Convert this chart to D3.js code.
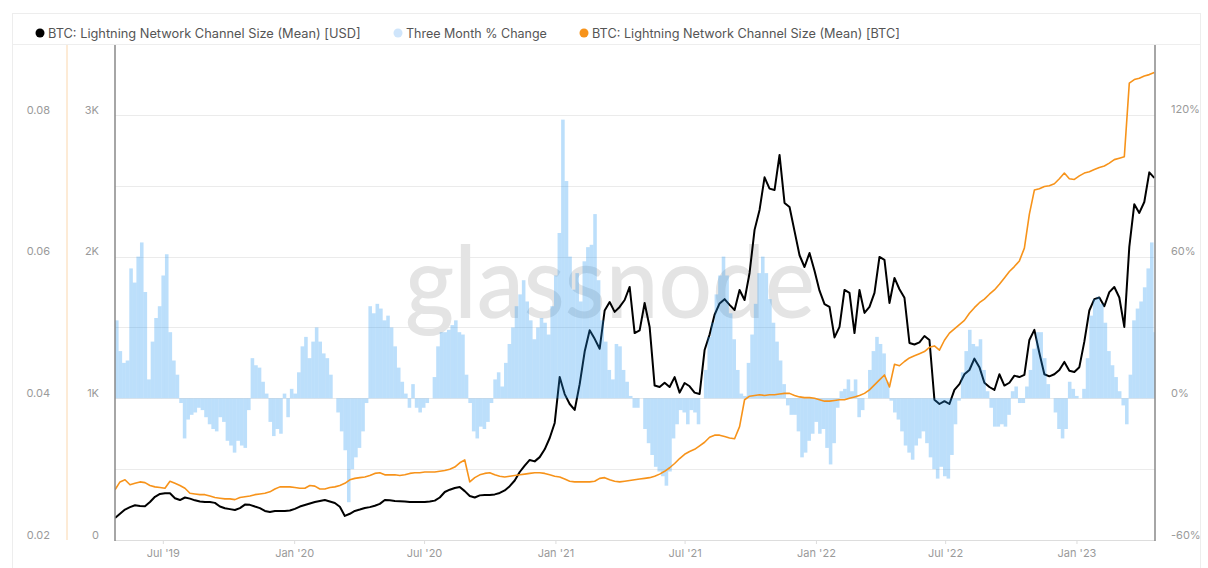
<!DOCTYPE html>
<html><head><meta charset="utf-8">
<script src="https://cdn.jsdelivr.net/npm/d3@7"></script>
<style>body{margin:0;background:#fff;font-family:Inter,"Noto Sans",sans-serif;}</style>
</head><body><svg id="c" width="1208" height="568"></svg>
<script>
// ---- data ----
const lineStart = "2019-04-25";   // weekly samples
const lineStepDays = 7;
const usdMean = [155,185,215,232,245,240,238,268,305,325,330,330,295,282,300,292,280,272,268,268,262,236,224,218,212,225,250,248,236,225,205,198,205,205,205,208,220,236,247,258,268,275,282,272,261,235,170,185,205,215,226,232,242,255,282,280,276,274,272,268,268,268,268,272,278,300,339,355,367,374,345,310,300,315,318,318,322,332,350,380,420,480,525,565,555,585,640,720,826,1151,1030,960,918,1100,1330,1480,1420,1350,1620,1680,1610,1645,1694,1786,1461,1480,1673,1504,1090,1080,1110,1080,1150,1040,1108,1085,1040,1030,1341,1450,1590,1670,1700,1660,1624,1765,1694,1885,2189,2330,2560,2480,2470,2718,2379,2350,2180,2010,1927,2026,1900,1760,1665,1645,1430,1504,1765,1744,1461,1765,1603,1645,1744,1998,1977,1673,1850,1770,1710,1391,1380,1395,1440,1412,990,960,980,960,1060,1100,1170,1200,1280,1220,1110,1080,1059,1170,1090,1110,1160,1150,1165,1412,1483,1320,1170,1155,1170,1200,1257,1195,1186,1220,1400,1620,1700,1712,1650,1750,1786,1712,1504,2069,2370,2309,2386,2595,2556];
const btcMean = [.0271,.0282,.0285,.0278,.0280,.0282,.0281,.0277,.0275,.0274,.0273,.0283,.0280,.0277,.0273,.0266,.0265,.0264,.0264,.0262,.0260,.0259,.0258,.0258,.0257,.0260,.0261,.0262,.0264,.0265,.0266,.0268,.0272,.0275,.0275,.0275,.0274,.0273,.0273,.0277,.0276,.0272,.0272,.0274,.0275,.0277,.0280,.0285,.0287,.0288,.0289,.0291,.0294,.0295,.0292,.0292,.0292,.0291,.0292,.0294,.0295,.0295,.0296,.0296,.0296,.0297,.0298,.0300,.0303,.0309,.0313,.0282,.0288,.0292,.0294,.0295,.0292,.0290,.0289,.0290,.0291,.0292,.0293,.0294,.0295,.0295,.0294,.0292,.0290,.0289,.0286,.0283,.0282,.0282,.0282,.0282,.0283,.0287,.0288,.0285,.0283,.0282,.0283,.0284,.0285,.0286,.0287,.0288,.0290,.0293,.0297,.0302,.0308,.0315,.0321,.0325,.0328,.0333,.0338,.0345,.0348,.0348,.0346,.0344,.0343,.0360,.0398,.0403,.0404,.0405,.0404,.0405,.0405,.0406,.0407,.0407,.0404,.0402,.0401,.0401,.0400,.0398,.0396,.0396,.0397,.0398,.0398,.0400,.0402,.0404,.0407,.0412,.0419,.0426,.0433,.0416,.0448,.0446,.0452,.0457,.0460,.0463,.0466,.0472,.0474,.0468,.0482,.0492,.0498,.0504,.0510,.0520,.0528,.0535,.0540,.0547,.0553,.0561,.0570,.0579,.0586,.0594,.0612,.0660,.0694,.0696,.0699,.0700,.0703,.0710,.0718,.0710,.0709,.0714,.0718,.0720,.0723,.0726,.0728,.0732,.0737,.0739,.0741,.0845,.0850,.0852,.0855,.0857,.0860];
const pctStart = "2019-04-25";    // 5-day samples
const pctStepDays = 5;
const pctChange = [33,20,15,16,55,49,60,66,45,8,24,34,39,52,61,28,16,10,-2,-17,-9,-7,-6,-4,-5,-8,-11,-13,-14,-8,-10,-18,-20,-23,-18,-20,-21,-5,17,14,13,7,2,-10,-16,-13,-15,2,-8,4,2,11,22,26,17,24,30,24,19,17,10,0,-6,-14,-22,-44,-30,-25,-21,-14,-2,39,36,40,38,33,35,30,22,13,7,2,-4,6,-4,-6,-4,-2,0,9,22,28,28,29,31,33,28,27,10,-2,-14,-17,-12,-13,-10,-2,8,11,5,15,23,30,39,44,50,41,33,25,30,34,32,27,39,52,70,118,92,60,46,53,41,58,64,65,78,50,33,24,12,8,23,22,12,7,1,-4,-4,0,-13,-19,-24,-29,-31,-33,-37,-31,-17,-11,-5,-6,-11,-5,-6,-11,0,12,26,32,44,52,60,52,36,25,12,2,1,15,27,40,53,60,53,42,32,24,16,6,-3,-7,-7,-14,-25,-23,-18,-15,-10,-15,-13,-21,-28,-19,-4,3,4,8,3,8,-8,-5,0,12,20,26,23,19,7,-1,-6,-9,-14,-20,-23,-26,-20,-17,-14,-19,-25,-30,-34,-29,-33,-34,-24,-11,-1,11,20,29,23,22,25,12,3,-4,-12,-12,-11,-12,-7,3,5,-2,-2,5,12,21,28,28,17,6,0,-6,-13,-17,-13,7,4,1,0,4,17,35,42,43,40,32,20,14,9,3,-3,-11,10,33,38,41,47,55,66,28];
const xTicks = ["2019-07-01","2020-01-01","2020-07-01","2021-01-01","2021-07-01","2022-01-01","2022-07-01","2023-01-01"];
const usdTicks = [0,1000,2000,3000];
const usdGrid = [500,1000,1500,2000,2500,3000];
const btcTicks = [0.02,0.04,0.06,0.08];
const pctTicks = [-60,0,60,120];
const legendItems = [
  {label:"BTC: Lightning Network Channel Size (Mean) [USD]", color:"#000000"},
  {label:"Three Month % Change", color:"#cfe5fb"},
  {label:"BTC: Lightning Network Channel Size (Mean) [BTC]", color:"#f7931a"}
];

// ---- drawing ----
const svg = d3.select("#c");
const L = 115, R = 1155, T = 45, B = 540;
const DAY = 864e5;
const parse = d3.utcParse("%Y-%m-%d");
const x = d3.scaleUtc().domain([parse("2019-04-25"), parse("2023-04-21")]).range([L, R]);
const yUsd = d3.scaleLinear().domain([0, 3494]).range([B, T]);
const yBtc = d3.scaleLinear().domain([0.02, 0.08988]).range([B, T]);
const yPct = d3.scaleLinear().domain([-60, 149.6]).range([B, T]);

const lineDates = usdMean.map((_, i) => new Date(parse(lineStart).getTime() + i * lineStepDays * DAY));
const pctDates = pctChange.map((_, i) => new Date(parse(pctStart).getTime() + i * pctStepDays * DAY));

// panel frame
svg.append("rect").attr("x", 12.5).attr("y", 13.5).attr("width", 1188).attr("height", 570)
  .attr("fill", "none").attr("stroke", "#ededed");
svg.append("line").attr("x1", 12).attr("x2", 1200).attr("y1", 44.5).attr("y2", 44.5).attr("stroke", "#eeeeee");

// legend
const lx = [40, 398, 584];
const lsize = [12.8, 12.5, 12.7];
legendItems.forEach((d, i) => {
  svg.append("circle").attr("cx", lx[i]).attr("cy", 33).attr("r", 4.5).attr("fill", d.color);
  svg.append("text").attr("x", lx[i] + 8).attr("y", 37.5).text(d.label)
    .attr("font-size", lsize[i]).attr("fill", "#555");
});

// gridlines
svg.append("g").selectAll("line").data(usdGrid).join("line")
  .attr("x1", L).attr("x2", R).attr("y1", d => Math.round(yUsd(d)) + 0.5).attr("y2", d => Math.round(yUsd(d)) + 0.5)
  .attr("stroke", "#ebebeb");

svg.append("clipPath").attr("id", "pc").append("rect")
  .attr("x", L).attr("y", T).attr("width", R - L).attr("height", B - T);

// watermark
svg.append("text").attr("x", 405).attr("y", 318).text("glassnode")
  .attr("font-family", "Lato, 'Open Sans', sans-serif").attr("font-size", 100).attr("font-weight", 500)
  .attr("textLength", 410).attr("lengthAdjust", "spacingAndGlyphs")
  .attr("fill", "#e4e4e4");

const plot = svg.append("g").attr("clip-path", "url(#pc)");

// USD line (black)
plot.append("path").datum(usdMean)
  .attr("fill", "none").attr("stroke", "#000").attr("stroke-width", 2).attr("stroke-linejoin", "round")
  .attr("d", d3.line().x((d, i) => x(lineDates[i])).y(d => yUsd(d)));

// pct bars
plot.append("g").selectAll("rect").data(pctChange).join("rect")
  .attr("x", (d, i) => x(pctDates[i]))
  .attr("width", (d, i) => x(new Date(pctDates[i].getTime() + pctStepDays * DAY)) - x(pctDates[i]))
  .attr("y", d => Math.min(yPct(d), yPct(0)))
  .attr("height", d => Math.abs(yPct(d) - yPct(0)))
  .attr("fill", "#2196f3").attr("fill-opacity", 0.3);

// BTC line (orange)
plot.append("path").datum(btcMean)
  .attr("fill", "none").attr("stroke", "#f7931a").attr("stroke-width", 1.6).attr("stroke-linejoin", "round")
  .attr("d", d3.line().x((d, i) => x(lineDates[i])).y(d => yBtc(d)));

// axes lines
svg.append("line").attr("x1", L).attr("x2", R).attr("y1", B + 0.5).attr("y2", B + 0.5).attr("stroke", "#dddddd");
svg.append("line").attr("x1", L).attr("x2", L).attr("y1", T).attr("y2", B + 1).attr("stroke", "#888").attr("stroke-width", 1.5);
svg.append("line").attr("x1", R).attr("x2", R).attr("y1", T).attr("y2", B + 1).attr("stroke", "#888").attr("stroke-width", 1.5);
svg.append("line").attr("x1", 67).attr("x2", 67).attr("y1", T).attr("y2", B).attr("stroke", "#fde4c8").attr("stroke-width", 1.5);

const axisFont = {size: 11, fill: "#9a9a9a"};
// x axis
const xAxis = d3.axisBottom(x).tickValues(xTicks.map(parse)).tickSize(4).tickPadding(5)
  .tickFormat(d3.utcFormat("%b '%y"));
const gx = svg.append("g").attr("transform", `translate(0,${B})`).call(xAxis);
gx.select(".domain").remove();
gx.selectAll(".tick line").attr("stroke", "#dddddd");
gx.selectAll(".tick text").attr("font-size", axisFont.size).attr("fill", axisFont.fill).attr("font-family", "Inter, sans-serif");

// left BTC axis
const gb = svg.append("g").attr("transform", "translate(50,0)")
  .call(d3.axisLeft(yBtc).tickValues(btcTicks).tickSize(0).tickPadding(0).tickFormat(d3.format(".2f")));
gb.select(".domain").remove();
gb.selectAll(".tick text").attr("font-size", axisFont.size).attr("fill", axisFont.fill).attr("dy", "-0.18em").attr("font-family", "Inter, sans-serif");

// left USD axis
const gu = svg.append("g").attr("transform", "translate(99,0)")
  .call(d3.axisLeft(yUsd).tickValues(usdTicks).tickSize(0).tickPadding(0).tickFormat(d => d === 0 ? "0" : (d / 1000) + "K"));
gu.select(".domain").remove();
gu.selectAll(".tick text").attr("font-size", axisFont.size).attr("fill", axisFont.fill).attr("dy", "-0.18em").attr("font-family", "Inter, sans-serif");

// right pct axis
const gp = svg.append("g").attr("transform", "translate(1171,0)")
  .call(d3.axisRight(yPct).tickValues(pctTicks).tickSize(0).tickPadding(0).tickFormat(d => d + "%"));
gp.select(".domain").remove();
gp.selectAll(".tick text").attr("font-size", axisFont.size).attr("fill", axisFont.fill).attr("dy", "-0.18em").attr("font-family", "Inter, sans-serif");
</script></body></html>
